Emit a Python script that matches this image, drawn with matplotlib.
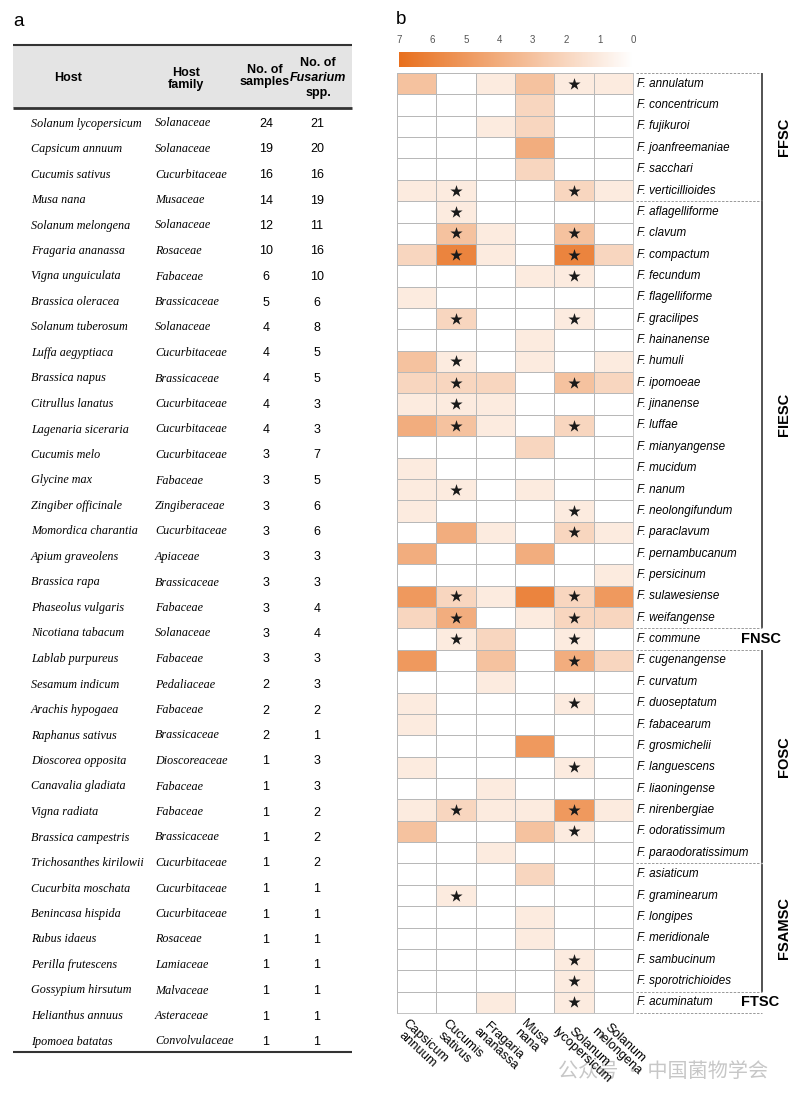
import matplotlib
matplotlib.use("Agg")
import matplotlib.pyplot as plt
from matplotlib.colors import LinearSegmentedColormap
from matplotlib.patches import Rectangle
import numpy as np

# ---------------- data: table (panel a) ----------------
hosts = ["Solanum lycopersicum", "Capsicum annuum", "Cucumis sativus", "Musa nana",
         "Solanum melongena", "Fragaria ananassa", "Vigna unguiculata", "Brassica oleracea",
         "Solanum tuberosum", "Luffa aegyptiaca", "Brassica napus", "Citrullus lanatus",
         "Lagenaria siceraria", "Cucumis melo", "Glycine max", "Zingiber officinale",
         "Momordica charantia", "Apium graveolens", "Brassica rapa", "Phaseolus vulgaris",
         "Nicotiana tabacum", "Lablab purpureus", "Sesamum indicum", "Arachis hypogaea",
         "Raphanus sativus", "Dioscorea opposita", "Canavalia gladiata", "Vigna radiata",
         "Brassica campestris", "Trichosanthes kirilowii", "Cucurbita moschata",
         "Benincasa hispida", "Rubus idaeus", "Perilla frutescens", "Gossypium hirsutum",
         "Helianthus annuus", "Ipomoea batatas"]
families = ["Solanaceae", "Solanaceae", "Cucurbitaceae", "Musaceae", "Solanaceae", "Rosaceae",
            "Fabaceae", "Brassicaceae", "Solanaceae", "Cucurbitaceae", "Brassicaceae",
            "Cucurbitaceae", "Cucurbitaceae", "Cucurbitaceae", "Fabaceae", "Zingiberaceae",
            "Cucurbitaceae", "Apiaceae", "Brassicaceae", "Fabaceae", "Solanaceae", "Fabaceae",
            "Pedaliaceae", "Fabaceae", "Brassicaceae", "Dioscoreaceae", "Fabaceae", "Fabaceae",
            "Brassicaceae", "Cucurbitaceae", "Cucurbitaceae", "Cucurbitaceae", "Rosaceae",
            "Lamiaceae", "Malvaceae", "Asteraceae", "Convolvulaceae"]
n_samples = [24, 19, 16, 14, 12, 10, 6, 5, 4, 4, 4, 4, 4, 3, 3, 3, 3, 3, 3, 3, 3, 3, 2, 2, 2,
             1, 1, 1, 1, 1, 1, 1, 1, 1, 1, 1, 1]
n_species = [21, 20, 16, 19, 11, 16, 10, 6, 8, 5, 5, 3, 3, 7, 5, 6, 6, 3, 3, 4, 4, 3, 3, 2, 1,
             3, 3, 2, 2, 2, 1, 1, 1, 1, 1, 1, 1]

# ---------------- data: heatmap (panel b) ----------------
heat_hosts = ["Capsicum\nannuum", "Cucumis\nsativus", "Fragaria\nananassa", "Musa\nnana",
              "Solanum\nlycopersicum", "Solanum\nmelongena"]
species = ["annulatum", "concentricum", "fujikuroi", "joanfreemaniae", "sacchari",
           "verticillioides", "aflagelliforme", "clavum", "compactum", "fecundum",
           "flagelliforme", "gracilipes", "hainanense", "humuli", "ipomoeae", "jinanense",
           "luffae", "mianyangense", "mucidum", "nanum", "neolongifundum", "paraclavum",
           "pernambucanum", "persicinum", "sulawesiense", "weifangense", "commune",
           "cugenangense", "curvatum", "duoseptatum", "fabacearum", "grosmichelii",
           "languescens", "liaoningense", "nirenbergiae", "odoratissimum",
           "paraodoratissimum", "asiaticum", "graminearum", "longipes", "meridionale",
           "sambucinum", "sporotrichioides", "acuminatum"]
values = [
    [3, 0, 1, 3, 1, 1], [0, 0, 0, 2, 0, 0], [0, 0, 1, 2, 0, 0], [0, 0, 0, 4, 0, 0],
    [0, 0, 0, 2, 0, 0], [1, 1, 0, 0, 2, 1], [0, 1, 0, 0, 0, 0], [0, 3, 1, 0, 3, 0],
    [2, 6, 1, 0, 6, 2], [0, 0, 0, 1, 1, 0], [1, 0, 0, 0, 0, 0], [0, 2, 0, 0, 1, 0],
    [0, 0, 0, 1, 0, 0], [3, 1, 0, 1, 0, 1], [2, 2, 2, 0, 3, 2], [1, 1, 1, 0, 0, 0],
    [4, 3, 1, 0, 2, 0], [0, 0, 0, 2, 0, 0], [1, 0, 0, 0, 0, 0], [1, 1, 0, 1, 0, 0],
    [1, 0, 0, 0, 1, 0], [0, 4, 1, 0, 2, 1], [4, 0, 0, 4, 0, 0], [0, 0, 0, 0, 0, 1],
    [5, 2, 1, 6, 2, 5], [2, 4, 0, 1, 2, 2], [0, 1, 2, 0, 1, 0], [5, 0, 3, 0, 4, 2],
    [0, 0, 1, 0, 0, 0], [1, 0, 0, 0, 1, 0], [1, 0, 0, 0, 0, 0], [0, 0, 0, 5, 0, 0],
    [1, 0, 0, 0, 1, 0], [0, 0, 1, 0, 0, 0], [1, 2, 1, 1, 5, 1], [3, 0, 0, 3, 1, 0],
    [0, 0, 1, 0, 0, 0], [0, 0, 0, 2, 0, 0], [0, 1, 0, 0, 0, 0], [0, 0, 0, 1, 0, 0],
    [0, 0, 0, 1, 0, 0], [0, 0, 0, 0, 1, 0], [0, 0, 0, 0, 1, 0], [0, 0, 1, 0, 1, 0],
]
stars_cucumis = ["verticillioides", "aflagelliforme", "clavum", "compactum", "gracilipes",
                 "humuli", "ipomoeae", "jinanense", "luffae", "nanum", "sulawesiense",
                 "weifangense", "commune", "nirenbergiae", "graminearum"]
stars_solanum = ["annulatum", "verticillioides", "clavum", "compactum", "fecundum",
                 "gracilipes", "ipomoeae", "luffae", "neolongifundum", "paraclavum",
                 "sulawesiense", "weifangense", "commune", "cugenangense", "duoseptatum",
                 "languescens", "nirenbergiae", "odoratissimum", "sambucinum",
                 "sporotrichioides", "acuminatum"]
groups = ["FFSC", "FIESC", "FNSC", "FOSC", "FSAMSC", "FTSC"]
group_sizes = [6, 20, 1, 10, 6, 1]
cbar_ticks = [7, 6, 5, 4, 3, 2, 1, 0]

SANS = "Liberation Sans"
SERIF = "Liberation Serif"
ORANGE = "#E8701E"

W, H = 800, 1101
fig = plt.figure(figsize=(W / 100, H / 100), dpi=100)
canvas = fig.add_axes([0, 0, 1, 1])
canvas.set_xlim(0, W)
canvas.set_ylim(H, 0)
canvas.axis("off")

# panel letters
canvas.text(13, 22, "a", fontsize=13.5, family=SANS, ha="left", va="center")
canvas.text(396, 20, "b", fontsize=13.5, family=SANS, ha="left", va="center")

# ---------------- table ----------------
tx0, tx1 = 13, 352
canvas.add_patch(Rectangle((tx0, 45), tx1 - tx0, 63, facecolor="#E4E4E4", lw=0))
canvas.plot([tx0, tx1], [45, 45], color="#333333", lw=1.5, solid_capstyle="butt")
canvas.plot([tx0, tx1], [108, 108], color="#333333", lw=2, solid_capstyle="butt")
canvas.plot([tx0, tx1], [1052, 1052], color="#333333", lw=1.5, solid_capstyle="butt")
hkw = dict(family=SANS, fontsize=9, fontweight="bold", ha="center", va="center", linespacing=1.1)
canvas.text(68, 78, "Host", **hkw)
canvas.text(186, 79, "Host\nfamily", **hkw)
canvas.text(265, 76, "No. of\nsamples", **hkw)
canvas.text(318, 63, "No. of", **hkw)
canvas.text(318, 78, "Fusarium", style="italic", **hkw)
canvas.text(318, 93, "spp.", **hkw)

row_y0, row_dy = 123, 25.5
for i, (h, f, s, n) in enumerate(zip(hosts, families, n_samples, n_species)):
    y = row_y0 + i * row_dy + 3.5
    canvas.text(31, y, h, family=SERIF, style="italic", fontsize=8.7, ha="left", va="baseline")
    canvas.text(155, y, f, family=SERIF, style="italic", fontsize=8.7, ha="left", va="baseline")
    canvas.text(266, y + 0.5, str(s), family=SANS, fontsize=9, ha="center", va="baseline")
    canvas.text(317, y + 0.5, str(n), family=SANS, fontsize=9, ha="center", va="baseline")

# ---------------- heatmap ----------------
cmap = LinearSegmentedColormap.from_list("wo", ["#FFFFFF", ORANGE])
hx0, hx1, hy0, hy1 = 397, 633, 73, 1013
ax = fig.add_axes([hx0 / W, 1 - hy1 / H, (hx1 - hx0) / W, (hy1 - hy0) / H])
M = np.array(values, dtype=float)
nr, nc = M.shape
ax.pcolormesh(np.arange(nc + 1), np.arange(nr + 1), M, cmap=cmap, vmin=0, vmax=7,
              edgecolors="#B8B8B8", linewidth=0.6)
ax.set_xlim(0, nc)
ax.set_ylim(nr, 0)
ax.set_xticks([])
ax.set_yticks([])
for sp in ax.spines.values():
    sp.set_color("#B8B8B8")
    sp.set_linewidth(0.6)

sx, sy = [], []
for name in stars_cucumis:
    sx.append(1.5); sy.append(species.index(name) + 0.5)
for name in stars_solanum:
    sx.append(4.5); sy.append(species.index(name) + 0.5)
ax.scatter(sx, sy, marker="*", s=85, color="#1A1A1A", linewidths=0, zorder=3)

# species labels
for i, sp_name in enumerate(species):
    ax.text(nc + 0.1, i + 0.5, "F. " + sp_name, family=SANS, style="italic", fontsize=8.4,
            ha="left", va="center", clip_on=False)

# column labels
for j, lab in enumerate(heat_hosts):
    ax.text(j + 0.3, nr + 0.2, lab, family=SANS, fontsize=9.3, rotation=-43,
            rotation_mode="anchor", ha="left", va="top", multialignment="center",
            linespacing=0.95, clip_on=False)

# group brackets
px = lambda xp: (xp - hx0) / (hx1 - hx0) * nc
xl0, xv, xg = px(636), px(762), px(784)
start = 0
dash_kw = dict(color="#999999", lw=0.7, linestyle=(0, (2.5, 1.5)), clip_on=False)
for g, n in zip(groups, group_sizes):
    end = start + n
    ax.plot([xl0, xv], [start, start], **dash_kw)
    if n > 1:
        ax.plot([xv, xv], [start + 0.05, end - 0.05], color="#444444", lw=1.3, clip_on=False)
        ax.text(xg, (start + end) / 2, g, family=SANS, fontweight="bold", fontsize=10.5,
                rotation=90, ha="center", va="center", clip_on=False)
    else:
        ax.text(px(741), (start + end) / 2, g, family=SANS, fontweight="bold", fontsize=10.5,
                ha="left", va="center", clip_on=False)
    start = end
ax.plot([xl0, xv], [nr, nr], **dash_kw)

# ---------------- colour bar ----------------
cax = fig.add_axes([399 / W, 1 - 67 / H, (633 - 399) / W, 15 / H])
grad = np.linspace(7, 0, 300)
cax.imshow(grad[None, :], cmap=cmap, vmin=0, vmax=7, aspect="auto",
           extent=[7, 0, 0, 1])
cax.set_xlim(7, 0)
cax.set_yticks([])
cax.set_xticks(cbar_ticks)
cax.set_xticklabels([str(t) for t in cbar_ticks], family=SANS, fontsize=7, color="#555555")
cax.xaxis.tick_top()
cax.tick_params(axis="x", length=0, pad=5)
for sp in cax.spines.values():
    sp.set_visible(False)

# watermark
canvas.text(663, 1071, "公众号 · 中国菌物学会", family=["Noto Sans CJK SC", "DejaVu Sans"],
            fontsize=14.5, color="#BDBDBD", alpha=0.85, ha="center", va="center")

fig.savefig("out.png", dpi=100)
